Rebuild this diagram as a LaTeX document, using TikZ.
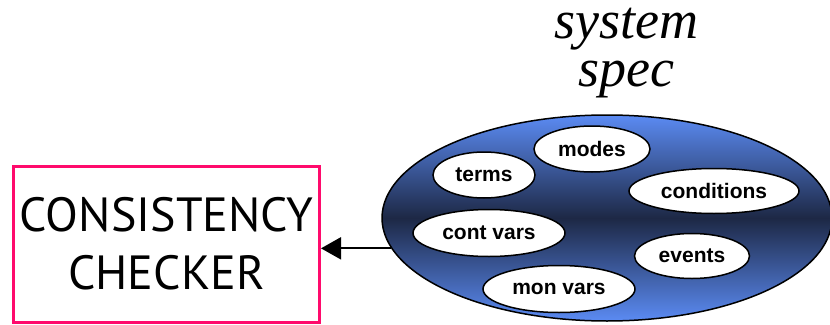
\documentclass[tikz,border=0pt]{standalone}
\usepackage{fontspec}
\setmainfont{Liberation Serif}
\newfontfamily\boxfont{PT Sans}
\newfontfamily\tagfont{Liberation Sans}
\usetikzlibrary{shapes.geometric,arrows.meta}
\definecolor{pinkedge}{HTML}{FF0A6C}
\definecolor{specblue}{HTML}{5B8BF3}
\definecolor{specnavy}{HTML}{1D2845}
\tikzset{
  part/.style={ellipse, draw=black, line width=1.5pt, fill=white, inner sep=0pt,
    font=\tagfont\bfseries\fontsize{21}{23}\selectfont},
}
\begin{document}
\begin{tikzpicture}[x=1pt,y=-1pt]
\useasboundingbox (0,0) rectangle (830,324);

% title above the specification
\node[font=\itshape\fontsize{54}{48}\selectfont, align=center, inner sep=0pt] (title) at (626.5,53) {system\\spec};

% the system specification and its parts
\node[ellipse, draw=black, line width=1.5pt, minimum width=450pt, minimum height=206pt,
      top color=specblue, bottom color=specblue, middle color=specnavy] (spec) at (607,218) {};

\node[part, minimum width=102pt, minimum height=46pt] (terms) at (484,175) {terms};
\node[part, minimum width=116pt, minimum height=46pt] (modes) at (592,149) {modes};
\node[part, minimum width=170pt, minimum height=45pt] (cond) at (714,191) {conditions};
\node[part, minimum width=152pt, minimum height=47pt] (cont) at (489,233) {cont vars};
\node[part, minimum width=115pt, minimum height=45pt] (events) at (692,256) {events};
\node[part, minimum width=152pt, minimum height=47pt] (mon) at (559,289) {mon vars};

% the checker
\node[draw=pinkedge, line width=3pt, minimum width=306pt, minimum height=156pt,
      align=center, inner sep=0pt, font=\boxfont\fontsize{48}{58}\selectfont] (checker) at (166.5,244) {CONSISTENCY\\CHECKER};

% specification feeds the checker
\draw[line width=2pt, -{Triangle[length=20pt,width=22pt]}] (spec.188) -- (spec.188 -| checker.east);
\end{tikzpicture}
\end{document}
